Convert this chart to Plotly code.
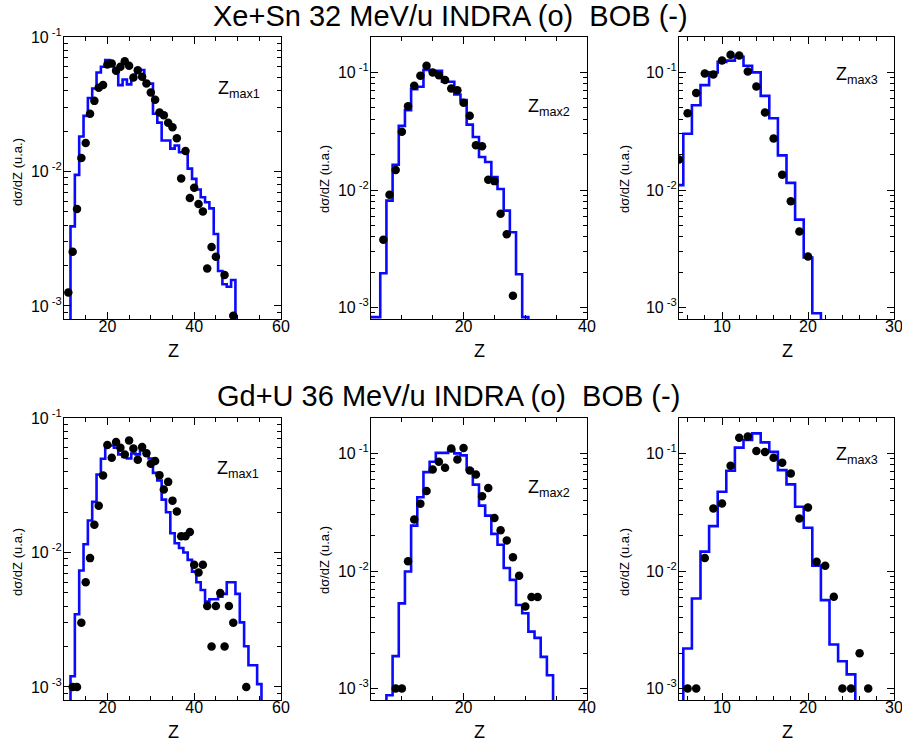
import math
import plotly.graph_objects as go

# ---------------- data ----------------
# Xe+Sn 32 MeV/u : Zmax1
xe1_dot_z = [11, 12, 13, 14, 15, 16, 17, 18, 19, 20, 21, 22, 23, 24, 25, 26, 27, 28, 29, 30,
             31, 32, 33, 34, 35, 36, 37, 38, 39, 40, 41, 42, 43, 44, 45, 47, 49]
xe1_dot_v = [1.26e-3, 2.53e-3, 5.26e-3, 1.26e-2, 1.63e-2, 2.69e-2, 3.35e-2, 4.19e-2, 4.39e-2, 6.24e-2,
             6.35e-2, 5.62e-2, 6.01e-2, 6.61e-2, 6.12e-2, 4.99e-2, 5.65e-2, 5.07e-2, 4.52e-2, 3.86e-2,
             3.41e-2, 2.75e-2, 2.62e-2, 2.30e-2, 2.13e-2, 1.77e-2, 8.87e-3, 1.42e-2, 6.34e-3, 7.57e-3,
             5.73e-3, 5.05e-3, 1.90e-3, 2.74e-3, 2.32e-3, 1.70e-3, 8.47e-4]
xe1_bob_z = list(range(12, 50))
xe1_bob_v = [3.91e-3, 9.44e-3, 1.82e-2, 2.59e-2, 3.52e-2, 4.14e-2, 5.45e-2, 6.01e-2, 6.73e-2, 6.25e-2,
             5.68e-2, 4.39e-2, 4.83e-2, 4.44e-2, 4.92e-2, 5.68e-2, 5.68e-2, 4.50e-2, 4.50e-2, 2.69e-2,
             2.31e-2, 1.70e-2, 1.70e-2, 1.48e-2, 1.56e-2, 1.39e-2, 1.38e-2, 1.05e-2, 8.81e-3, 7.35e-3,
             6.43e-3, 5.90e-3, 5.32e-3, 3.43e-3, 1.82e-3, 1.45e-3, 1.39e-3, 1.56e-3]

# Xe+Sn 32 MeV/u : Zmax2
xe2_dot_z = list(range(7, 29))
xe2_dot_v = [3.78e-3, 9.10e-3, 1.48e-2, 3.13e-2, 5.16e-2, 7.69e-2, 9.38e-2, 1.14e-1, 1.00e-1, 9.48e-2,
             8.61e-2, 7.29e-2, 7.06e-2, 5.51e-2, 4.27e-2, 2.40e-2, 2.35e-2, 1.22e-2, 1.19e-2, 6.27e-3,
             4.20e-3, 1.26e-3]
xe2_bob_z = list(range(5, 31))
xe2_bob_v = [8.3e-4, 8.3e-4, 1.96e-3, 8.13e-3, 1.64e-2, 3.51e-2, 4.78e-2, 7.21e-2, 7.55e-2, 1.05e-1,
             1.03e-1, 1.03e-1, 8.32e-2, 8.32e-2, 6.49e-2, 5.81e-2, 3.60e-2, 2.82e-2, 1.91e-2, 1.73e-2,
             1.29e-2, 1.02e-2, 6.68e-3, 4.37e-3, 1.92e-3, 8.3e-4]

# Xe+Sn 32 MeV/u : Zmax3
xe3_dot_z = list(range(5, 21))
xe3_dot_v = [1.82e-2, 4.50e-2, 6.67e-2, 9.79e-2, 9.62e-2, 1.26e-1, 1.41e-1, 1.39e-1, 1.02e-1, 7.60e-2,
             4.56e-2, 2.74e-2, 1.35e-2, 8.04e-3, 4.43e-3, 2.72e-3]
xe3_bob_z = list(range(5, 22))
xe3_bob_v = [1.10e-2, 3.01e-2, 5.26e-2, 7.80e-2, 1.00e-1, 1.23e-1, 1.26e-1, 1.36e-1, 1.14e-1, 1.00e-1,
             6.32e-2, 4.07e-2, 1.97e-2, 1.15e-2, 5.60e-3, 2.67e-3, 8.95e-4]

# Gd+U 36 MeV/u : Zmax1
gd1_dot_z = [12, 13, 14, 15, 16, 17, 18, 19, 20, 21, 22, 23, 24, 25, 26, 27, 28, 29, 30, 31,
             32, 33, 34, 35, 36, 37, 38, 39, 40, 41, 42, 43, 44, 45, 46, 47, 48, 49, 52]
gd1_dot_v = [1.0e-3, 1.0e-3, 3.0e-3, 6.01e-3, 9.08e-3, 1.61e-2, 2.23e-2, 3.73e-2, 6.30e-2, 5.06e-2,
             6.62e-2, 6.01e-2, 5.36e-2, 6.81e-2, 5.94e-2, 4.89e-2, 6.08e-2, 5.48e-2, 4.56e-2, 4.78e-2,
             3.76e-2, 2.94e-2, 3.35e-2, 2.43e-2, 2.02e-2, 1.32e-2, 1.32e-2, 1.42e-2, 8.09e-3, 7.10e-3,
             8.09e-3, 4.0e-3, 2.0e-3, 4.0e-3, 5.0e-3, 2.0e-3, 4.0e-3, 3.0e-3, 1.0e-3]
gd1_bob_z = list(range(12, 56))
gd1_bob_v = [1.20e-3, 3.47e-3, 7.35e-3, 1.15e-2, 1.73e-2, 2.38e-2, 3.80e-2, 4.98e-2, 6.25e-2, 6.25e-2,
             6.01e-2, 5.36e-2, 5.14e-2, 5.00e-2, 5.45e-2, 5.36e-2, 5.74e-2, 5.36e-2, 5.00e-2, 3.91e-2,
             3.43e-2, 2.47e-2, 1.99e-2, 1.39e-2, 1.17e-2, 1.08e-2, 1.00e-2, 8.81e-3, 7.21e-3, 6.01e-3,
             5.26e-3, 4.31e-3, 4.49e-3, 4.49e-3, 4.70e-3, 4.92e-3, 6.01e-3, 6.01e-3, 4.92e-3, 3.02e-3,
             2.01e-3, 1.45e-3, 1.45e-3, 1.05e-3]

# Gd+U 36 MeV/u : Zmax2
gd2_dot_z = list(range(9, 33))
gd2_dot_v = [1.0e-3, 1.0e-3, 1.21e-2, 2.74e-2, 3.74e-2, 4.78e-2, 7.29e-2, 8.49e-2, 7.55e-2, 1.10e-1,
             8.89e-2, 1.11e-1, 7.16e-2, 6.62e-2, 4.33e-2, 5.09e-2, 2.82e-2, 2.22e-2, 1.82e-2, 1.31e-2,
             9.10e-3, 5.0e-3, 6.0e-3, 6.0e-3]
gd2_bob_z = list(range(8, 35))
gd2_bob_v = [8.77e-4, 1.89e-3, 5.31e-3, 9.91e-3, 2.43e-2, 4.24e-2, 6.93e-2, 8.49e-2, 1.01e-1, 1.01e-1,
             1.07e-1, 1.00e-1, 9.62e-2, 7.29e-2, 5.43e-2, 3.60e-2, 2.96e-2, 2.07e-2, 1.67e-2, 1.06e-2,
             8.41e-3, 5.14e-3, 4.37e-3, 3.05e-3, 2.70e-3, 1.86e-3, 1.30e-3]

# Gd+U 36 MeV/u : Zmax3
gd3_dot_z = list(range(6, 28))
gd3_dot_v = [1.0e-3, 1.0e-3, 1.29e-2, 3.40e-2, 3.75e-2, 7.85e-2, 1.36e-1, 1.39e-1, 1.05e-1, 1.03e-1,
             9.18e-2, 8.34e-2, 6.76e-2, 2.80e-2, 3.47e-2, 1.20e-2, 1.11e-2, 6.03e-3, 1.0e-3, 1.0e-3,
             2.0e-3, 1.0e-3]
gd3_bob_z = list(range(6, 26))
gd3_bob_v = [2.19e-3, 5.83e-3, 1.46e-2, 2.41e-2, 4.72e-2, 7.11e-2, 1.12e-1, 1.30e-1, 1.48e-1, 1.24e-1,
             1.03e-1, 7.21e-2, 5.45e-2, 3.52e-2, 2.33e-2, 1.11e-2, 5.65e-3, 2.37e-3, 1.71e-3, 1.32e-3]

titles = ["Xe+Sn 32 MeV/u INDRA (o)\u00a0 BOB (-)", "Gd+U 36 MeV/u INDRA (o)\u00a0 BOB (-)"]
panel_labels = ["Z<sub>max1</sub>", "Z<sub>max2</sub>", "Z<sub>max3</sub>"]
x_title = "Z"
y_title = "d\u03c3/dZ (u.a.)"
y_tickvals = [1e-3, 1e-2, 1e-1]
y_ticktext = ["10<sup> -3</sup>", "10<sup> -2</sup>", "10<sup> -1</sup>"]

# ---------------- layout helpers ----------------
W, H = 902, 742
FONT = "Liberation Sans, Arial, Helvetica, sans-serif"
BLUE = "rgb(10,10,255)"


def px(x):
    return x / W


def py(y):
    return 1 - y / H


panels = [
    # dots z, dots v, bob z, bob v, box(l, r, t, b), x range, x dtick, x minor, y top, label pos, ytitle pos
    (xe1_dot_z, xe1_dot_v, xe1_bob_z, xe1_bob_v, (64, 281, 37, 319), [10, 60], 20, 5, 0.1, (216, 89), (17, 172)),
    (xe2_dot_z, xe2_dot_v, xe2_bob_z, xe2_bob_v, (371, 587, 37, 319), [5, 40], 20, 5, 0.2, (526, 108), (324, 179)),
    (xe3_dot_z, xe3_dot_v, xe3_bob_z, xe3_bob_v, (679, 894, 37, 319), [5, 30], 10, 2, 0.2, (834, 75), (624, 179)),
    (gd1_dot_z, gd1_dot_v, gd1_bob_z, gd1_bob_v, (64, 281, 418, 700), [10, 60], 20, 5, 0.1, (215, 469), (17, 562)),
    (gd2_dot_z, gd2_dot_v, gd2_bob_z, gd2_bob_v, (371, 587, 418, 700), [5, 40], 20, 5, 0.2, (526, 488), (324, 560)),
    (gd3_dot_z, gd3_dot_v, gd3_bob_z, gd3_bob_v, (679, 894, 418, 700), [5, 30], 10, 2, 0.2, (834, 455), (624, 562)),
]

YMIN = 8e-4
FLOOR = 1e-6
minor_y = [k * 10.0 ** e for e in (-4, -3, -2, -1) for k in range(2, 10)]

fig = go.Figure()
annotations = []
layout_axes = {}

for i, (dz, dv, bz, bv, box, xr, xdt, xmin, ytop, lab, ytp) in enumerate(panels):
    n = "" if i == 0 else str(i + 1)
    # histogram (step line with bins centred on integer Z)
    hx = [bz[0] - 0.5] + [z - 0.5 for z in bz] + [bz[-1] + 0.5]
    hy = [FLOOR] + list(bv) + [FLOOR]
    fig.add_trace(go.Scatter(x=hx, y=hy, mode="lines",
                             line=dict(color=BLUE, width=2.6, shape="hv"),
                             xaxis="x" + n, yaxis="y" + n, showlegend=False, hoverinfo="skip"))
    fig.add_trace(go.Scatter(x=dz, y=dv, mode="markers",
                             marker=dict(color="black", size=8.5, line=dict(width=0)),
                             xaxis="x" + n, yaxis="y" + n, showlegend=False, cliponaxis=True))
    l, r, t, b = box
    layout_axes["xaxis" + n] = dict(
        domain=[px(l), px(r)], range=xr, anchor="y" + n, automargin=False,
        showgrid=False, zeroline=False, showline=True, linecolor="black", linewidth=1,
        mirror="allticks", ticks="inside", ticklen=7, tickwidth=1, tickcolor="black",
        tick0=0, dtick=xdt, ticklabelstandoff=-7, ticklabeloverflow="allow",
        tickfont=dict(family=FONT, size=16, color="black"),
        minor=dict(ticks="inside", ticklen=4, tickwidth=1, tickcolor="black", tick0=0, dtick=xmin),
    )
    layout_axes["yaxis" + n] = dict(
        domain=[py(b), py(t)], type="log", automargin=False,
        range=[math.log10(YMIN), math.log10(ytop)], anchor="x" + n,
        showgrid=False, zeroline=False, showline=True, linecolor="black", linewidth=1,
        mirror="allticks", ticks="inside", ticklen=7, tickwidth=1, tickcolor="black",
        tickmode="array", tickvals=y_tickvals, ticktext=y_ticktext, ticklabelstandoff=-2,
        ticklabeloverflow="allow",
        tickfont=dict(family=FONT, size=16, color="black"),
        minor=dict(ticks="inside", ticklen=4, tickwidth=1, tickcolor="black",
                   tickmode="array", tickvals=minor_y),
    )
    # panel label
    annotations.append(dict(text=panel_labels[i % 3], x=px(lab[0]), y=py(lab[1]),
                            xref="paper", yref="paper", xanchor="left", yanchor="middle",
                            showarrow=False, font=dict(family=FONT, size=18, color="black")))
    # y title
    annotations.append(dict(text=y_title, x=px(ytp[0]), y=py(ytp[1]), textangle=-90,
                            xref="paper", yref="paper", xanchor="center", yanchor="middle",
                            showarrow=False, font=dict(family=FONT, size=13, color="black")))
    # x title
    annotations.append(dict(text=x_title, x=px((l + r) / 2 + 0.5), y=py(b + 32),
                            xref="paper", yref="paper", xanchor="center", yanchor="middle",
                            showarrow=False, font=dict(family=FONT, size=18, color="black")))

annotations.append(dict(text=titles[0], x=px(450), y=py(16), xref="paper", yref="paper",
                        xanchor="center", yanchor="middle", showarrow=False,
                        font=dict(family=FONT, size=29, color="black")))
annotations.append(dict(text=titles[1], x=px(448), y=py(396), xref="paper", yref="paper",
                        xanchor="center", yanchor="middle", showarrow=False,
                        font=dict(family=FONT, size=29, color="black")))

fig.update_layout(
    width=W, height=H, autosize=False,
    margin=dict(l=0, r=0, t=0, b=0, pad=0, autoexpand=False),
    paper_bgcolor="white", plot_bgcolor="white",
    showlegend=False,
    annotations=annotations,
    **layout_axes,
)

fig.write_html("out.html",
               config={"displayModeBar": False},
               post_script="document.body.style.margin='0';document.body.style.overflow='hidden';")
